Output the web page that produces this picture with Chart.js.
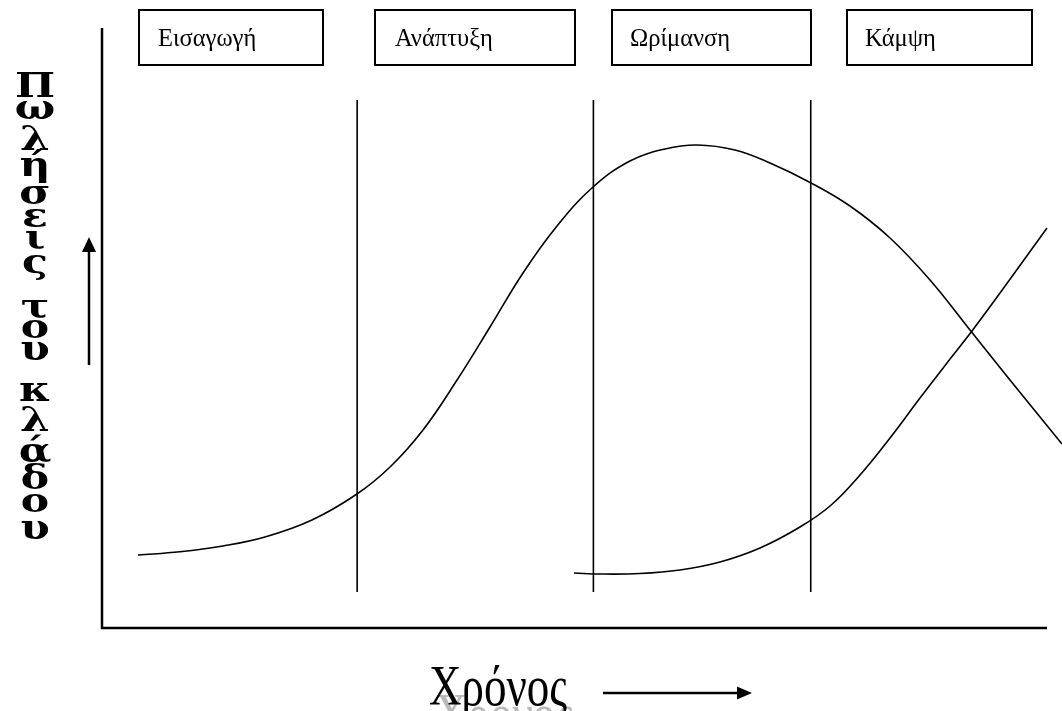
<!DOCTYPE html>
<html>
<head>
<meta charset="utf-8">
<script src="https://cdn.jsdelivr.net/npm/chart.js@4"></script>
<style>
  html, body { margin: 0; padding: 0; background: #fff; }
  #c { display: block; }
</style>
</head>
<body>
<canvas id="c" width="1062" height="711"></canvas>
<script>
// ---- data (time 0..100, sales 0..100) ----
const industryTime  = [3.81, 8.25, 12.80, 17.25, 22.22, 26.98, 30.48, 33.97, 37.57, 41.06, 44.55, 48.15, 51.96, 55.87, 59.58, 62.96, 66.98, 70.69, 75.03, 79.15, 83.39, 87.62, 91.85, 96.08, 101.59];
const industrySales = [12.17, 12.7, 13.67, 15.17, 18.0, 22.33, 26.83, 33.0, 41.33, 50.17, 59.17, 67.0, 73.5, 77.83, 79.83, 80.5, 79.67, 77.5, 74.17, 70.33, 65.0, 58.0, 49.67, 41.33, 30.67];
const newTime  = [49.95, 52.70, 56.93, 61.16, 65.40, 69.63, 73.86, 77.04, 80.21, 83.39, 86.56, 89.74, 92.06, 95.03, 100.0];
const newSales = [9.17, 9.0, 9.08, 9.67, 11.0, 13.33, 16.83, 20.33, 25.5, 31.67, 38.33, 44.83, 49.5, 55.83, 66.67];
const phaseBoundaries = [27.0, 52.0, 75.0];
const boundaryRange = [6, 88];
const phaseLabels = ["Εισαγωγή", "Ανάπτυξη", "Ωρίμανση", "Κάμψη"];
const yTitle = "Πωλήσεις του κλάδου";
const xTitle = "Χρόνος";

const toPts = (xs, ys) => xs.map((x, i) => ({ x: x, y: ys[i] }));

const curveStyle = { borderColor: '#000', borderWidth: 1.6, pointRadius: 0, tension: 0.4, clip: false, fill: false };
const datasets = [
  Object.assign({ data: toPts(industryTime, industrySales) }, curveStyle),
  Object.assign({ data: toPts(newTime, newSales) }, curveStyle)
];
phaseBoundaries.forEach(b => {
  datasets.push({ data: [{ x: b, y: boundaryRange[0] }, { x: b, y: boundaryRange[1] }], borderColor: '#000', borderWidth: 1.6, pointRadius: 0, tension: 0, clip: false, fill: false });
});

// layout of decorations (pixels)
const boxes = [
  { l: 139, r: 323, tx: 158 },
  { l: 375, r: 575, tx: 395 },
  { l: 612, r: 811, tx: 630 },
  { l: 847, r: 1032, tx: 865 }
];
const yTitleCenters = [84, 110, 137, 166, 195, 218, 240, 267, null, 309, 329, 351, null, 392, 418, 448, 476, 503, 530];

const decor = {
  id: 'decor',
  afterDraw(chart) {
    const ctx = chart.ctx;
    const a = chart.chartArea;
    ctx.save();
    ctx.strokeStyle = '#000';
    ctx.fillStyle = '#000';
    // axes
    ctx.lineWidth = 2.5;
    ctx.beginPath();
    ctx.moveTo(a.left, a.top);
    ctx.lineTo(a.left, a.bottom);
    ctx.lineTo(a.right, a.bottom);
    ctx.stroke();

    // phase boxes
    ctx.lineWidth = 2;
    ctx.font = '24.5px "Liberation Serif"';
    ctx.textBaseline = 'alphabetic';
    ctx.textAlign = 'left';
    boxes.forEach((b, i) => {
      ctx.strokeRect(b.l, 10, b.r - b.l, 55);
      ctx.fillText(phaseLabels[i], b.tx, 46);
    });

    // y title (stacked characters)
    ctx.font = 'bold 34px "DejaVu Serif"';
    ctx.textAlign = 'center';
    ctx.textBaseline = 'alphabetic';
    const chars = Array.from(yTitle);
    chars.forEach((ch, i) => {
      const cy = yTitleCenters[i];
      if (ch === ' ' || cy == null) return;
      const m = ctx.measureText(ch);
      const asc = m.actualBoundingBoxAscent, desc = m.actualBoundingBoxDescent;
      const base = cy + (asc - desc) / 2;
      ctx.save();
      ctx.translate(35, base);
      ctx.scale(1.25, 1);
      ctx.fillText(ch, 0, 0);
      ctx.restore();
    });

    // up arrow
    ctx.lineWidth = 2.5;
    ctx.beginPath();
    ctx.moveTo(89, 365);
    ctx.lineTo(89, 250);
    ctx.stroke();
    ctx.beginPath();
    ctx.moveTo(89, 237);
    ctx.lineTo(82, 252);
    ctx.lineTo(96, 252);
    ctx.closePath();
    ctx.fill();

    // x title with grey shadow
    ctx.font = '58px "Liberation Serif"';
    ctx.textAlign = 'left';
    ctx.textBaseline = 'alphabetic';
    const w = ctx.measureText(xTitle).width;
    const sx = 138 / w;
    ctx.save();
    ctx.fillStyle = '#b8b8b8';
    ctx.translate(435, 733);
    ctx.scale(sx, 1);
    ctx.fillText(xTitle, 0, 0);
    ctx.restore();
    ctx.save();
    ctx.fillStyle = '#000';
    ctx.translate(429, 705);
    ctx.scale(sx, 1);
    ctx.fillText(xTitle, 0, 0);
    ctx.restore();

    // right arrow
    ctx.lineWidth = 2.5;
    ctx.beginPath();
    ctx.moveTo(603, 693);
    ctx.lineTo(738, 693);
    ctx.stroke();
    ctx.beginPath();
    ctx.moveTo(752, 693);
    ctx.lineTo(737, 686.5);
    ctx.lineTo(737, 699.5);
    ctx.closePath();
    ctx.fill();
    ctx.restore();
  }
};

new Chart(document.getElementById('c'), {
  type: 'line',
  data: { datasets: datasets },
  options: {
    responsive: false,
    animation: false,
    devicePixelRatio: 1,
    layout: { padding: { left: 102, right: 15, top: 28, bottom: 83 } },
    plugins: { legend: { display: false }, tooltip: { enabled: false } },
    scales: {
      x: { type: 'linear', min: 0, max: 100, display: false },
      y: { type: 'linear', min: 0, max: 100, display: false }
    }
  },
  plugins: [decor]
});
</script>
</body>
</html>
